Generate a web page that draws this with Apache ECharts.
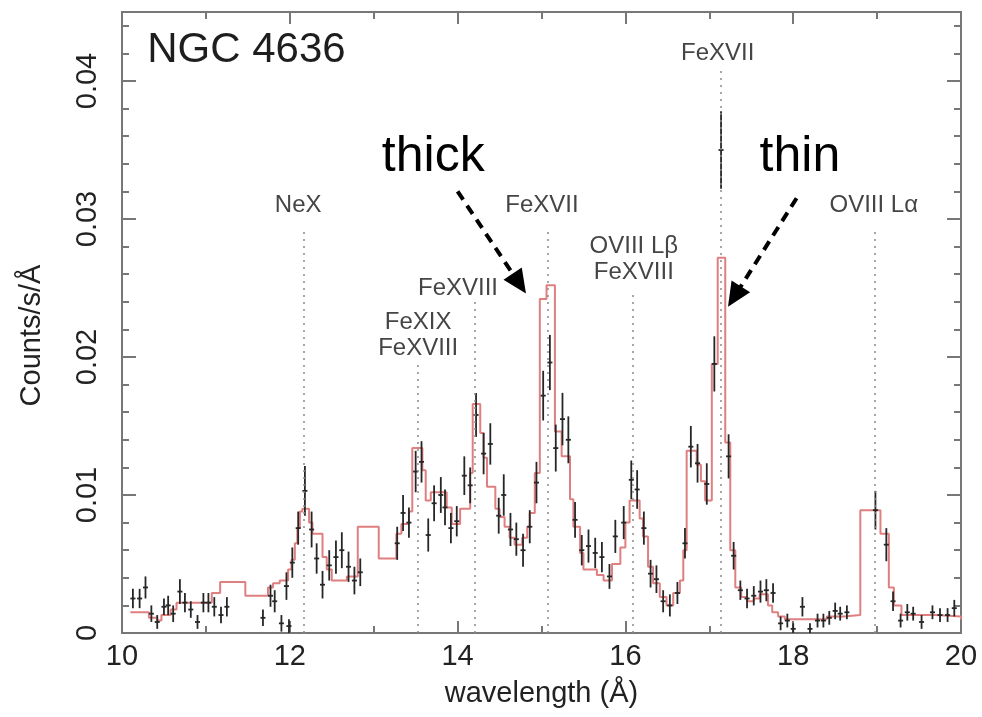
<!DOCTYPE html>
<html><head><meta charset="utf-8">
<script src="https://cdn.jsdelivr.net/npm/echarts@6/dist/echarts.min.js"></script>
<style>html,body{margin:0;padding:0;background:#fff}#c{width:982px;height:717px}</style>
</head><body><div id="c"></div>
<script>
// ---- data ----
const xTickLabels = [10, 12, 14, 16, 18, 20];
const yTickLabels = [0, 0.01, 0.02, 0.03, 0.04];

// model histogram: left bin edges (last entry is the final right edge) and values
const modelEdges = [10.10,10.32,10.42,10.47,10.58,10.65,11.07,11.17,11.47,11.74,11.80,11.88,11.98,12.02,12.06,12.09,12.12,12.15,12.23,12.27,12.39,12.44,12.50,12.68,12.81,13.06,13.27,13.33,13.42,13.46,13.58,13.62,13.68,13.87,13.93,14.03,14.15,14.18,14.27,14.31,14.35,14.45,14.50,14.56,14.62,14.68,14.77,14.83,14.86,14.92,14.98,15.06,15.16,15.24,15.34,15.38,15.46,15.50,15.66,15.74,15.84,15.94,16.00,16.05,16.17,16.21,16.27,16.33,16.41,16.49,16.57,16.65,16.69,16.73,16.85,16.90,16.95,17.03,17.10,17.19,17.25,17.31,17.38,17.45,17.53,17.60,17.70,17.75,17.82,17.90,18.40,18.60,18.80,19.04,19.14,19.20,19.29,19.70,20.00];
const modelValues = [0.0015,0.0011,0.0009,0.0013,0.0017,0.0022,0.0029,0.0037,0.0027,0.0033,0.0036,0.0038,0.0046,0.0053,0.0065,0.0076,0.0088,0.0090,0.0080,0.0072,0.0055,0.0046,0.0038,0.0041,0.0077,0.0054,0.0072,0.0079,0.0088,0.0134,0.0118,0.0096,0.0102,0.0091,0.0079,0.0090,0.0116,0.0166,0.0145,0.0127,0.0106,0.0090,0.0084,0.0077,0.0069,0.0064,0.0069,0.0077,0.0087,0.0116,0.0242,0.0252,0.0146,0.0128,0.0097,0.0077,0.0058,0.0046,0.0042,0.0038,0.0050,0.0062,0.0080,0.0096,0.0083,0.0070,0.0048,0.0036,0.0026,0.0020,0.0029,0.0038,0.0060,0.0132,0.0122,0.0110,0.0096,0.0195,0.0272,0.0138,0.0060,0.0033,0.0026,0.0023,0.0025,0.0028,0.0020,0.0015,0.0012,0.0010,0.0012,0.0013,0.0089,0.0072,0.0033,0.0020,0.0013,0.0012,0.0010];

// data points: wavelength, value, 1-sigma error
const pointX = [10.13,10.21,10.28,10.35,10.42,10.50,10.55,10.61,10.69,10.75,10.82,10.90,10.97,11.03,11.10,11.18,11.25,11.68,11.77,11.82,11.90,11.96,11.99,12.03,12.10,12.18,12.26,12.32,12.39,12.47,12.55,12.62,12.70,12.77,12.84,13.28,13.35,13.42,13.50,13.57,13.65,13.72,13.80,13.85,13.92,13.99,14.08,14.15,14.22,14.31,14.39,14.49,14.55,14.63,14.70,14.78,14.86,14.94,15.02,15.10,15.17,15.25,15.32,15.40,15.48,15.56,15.64,15.72,15.81,15.88,15.98,16.07,16.14,16.22,16.30,16.37,16.45,16.53,16.62,16.71,16.78,16.86,16.97,17.06,17.14,17.23,17.29,17.37,17.45,17.53,17.61,17.68,17.76,17.85,17.93,18.00,18.11,18.20,18.29,18.36,18.43,18.50,18.56,18.64,18.98,19.11,19.19,19.28,19.36,19.43,19.53,19.66,19.75,19.84,19.92];
const pointY = [0.0025,0.0025,0.0033,0.0014,0.0008,0.0019,0.0020,0.0014,0.0030,0.0022,0.0017,0.0008,0.0022,0.0022,0.0019,0.0013,0.0019,0.0011,0.0027,0.0023,0.0007,0.0034,0.0005,0.0051,0.0076,0.0103,0.0075,0.0054,0.0035,0.0049,0.0055,0.0060,0.0048,0.0038,0.0044,0.0065,0.0087,0.0080,0.0117,0.0124,0.0071,0.0094,0.0100,0.0091,0.0076,0.0081,0.0114,0.0107,0.0158,0.0130,0.0137,0.0085,0.0100,0.0075,0.0068,0.0060,0.0077,0.0109,0.0172,0.0196,0.0134,0.0155,0.0140,0.0082,0.0060,0.0063,0.0058,0.0055,0.0041,0.0070,0.0080,0.0111,0.0104,0.0076,0.0043,0.0039,0.0023,0.0020,0.0029,0.0065,0.0135,0.0123,0.0108,0.0195,0.0350,0.0128,0.0056,0.0031,0.0025,0.0027,0.0030,0.0031,0.0029,0.0007,0.0009,0.0003,0.0019,0.0003,0.0009,0.0009,0.0011,0.0016,0.0014,0.0015,0.0089,0.0064,0.0023,0.0009,0.0015,0.0014,0.0008,0.0015,0.0013,0.0013,0.0018];
const pointErr = [0.0007,0.0007,0.0008,0.0006,0.0005,0.0006,0.0007,0.0006,0.0009,0.0007,0.0006,0.0005,0.0007,0.0007,0.0007,0.0006,0.0007,0.0006,0.0008,0.0008,0.0006,0.0010,0.0005,0.0011,0.0012,0.0018,0.0013,0.0011,0.0010,0.0011,0.0012,0.0013,0.0011,0.0010,0.0010,0.0012,0.0013,0.0011,0.0015,0.0015,0.0012,0.0013,0.0013,0.0013,0.0011,0.0011,0.0014,0.0013,0.0016,0.0015,0.0015,0.0013,0.0015,0.0012,0.0012,0.0012,0.0012,0.0015,0.0018,0.0020,0.0017,0.0019,0.0017,0.0013,0.0011,0.0012,0.0011,0.0011,0.0009,0.0012,0.0012,0.0014,0.0014,0.0012,0.0010,0.0010,0.0008,0.0008,0.0008,0.0011,0.0015,0.0014,0.0015,0.0020,0.0028,0.0016,0.0010,0.0007,0.0007,0.0007,0.0008,0.0008,0.0007,0.0005,0.0005,0.0004,0.0007,0.0004,0.0005,0.0005,0.0005,0.0006,0.0005,0.0005,0.0014,0.0012,0.0007,0.0005,0.0006,0.0005,0.0005,0.0005,0.0005,0.0005,0.0006];
const binHalfWidth = 0.03;

// line identifications
const lineX = [12.17, 13.53, 14.21, 15.07, 16.09, 17.14, 18.97];
const lineTop = [0.0294, 0.0195, 0.0241, 0.0294, 0.0248, 0.0410, 0.0294];
const labelTexts = ['NeX', 'FeXIX\nFeXVIII', 'FeXVIII', 'FeXVII', 'OVIII Lβ\nFeXVIII', 'FeXVII', 'OVIII Lα'];
const labelX = [12.10, 13.53, 14.005, 15.006, 16.10, 17.10, 18.96];
const labelY = [0.0310, 0.02155, 0.0250, 0.0310, 0.0271, 0.0420, 0.0310];

// annotations
const titleText = 'NGC 4636';
const titlePos = [10.30, 0.0422];
const noteTexts = ['thick', 'thin'];
const noteX = [13.71, 18.08];
const noteY = [0.0345, 0.0345];
const arrowFrom = [[14.00, 0.0320], [18.04, 0.0315]];
const arrowTo = [[14.815, 0.0246], [17.223, 0.02365]];

// ---- chart ----
const FONT = '"Liberation Sans", Arial, Helvetica, sans-serif';
const frame = {color: '#777', width: 2};
const chart = echarts.init(document.getElementById('c'));

function xAx(pos, labels) {
  return {
    type: 'value', min: 10, max: 20, interval: 2, position: pos,
    axisLine: {show: true, onZero: false, lineStyle: frame},
    axisTick: {show: true, inside: true, length: 12, lineStyle: frame},
    minorTick: {show: true, splitNumber: 2, length: 7, lineStyle: frame},
    splitLine: {show: false}, minorSplitLine: {show: false},
    axisLabel: {show: labels, fontSize: 29, fontFamily: FONT, color: '#222', margin: 9,
      formatter: v => xTickLabels.indexOf(v) >= 0 ? String(v) : ''},
    name: labels ? 'wavelength (Å)' : '', nameLocation: 'middle', nameGap: 46,
    nameTextStyle: {fontSize: 29, fontFamily: FONT, color: '#222'}
  };
}
function yAx(pos, major, labels) {
  return {
    type: 'value', min: 0, max: 0.045, interval: major ? 0.01 : 0.002, position: pos,
    axisLine: {show: true, onZero: false, lineStyle: frame},
    axisTick: {show: true, inside: true, length: major ? 14 : 7, lineStyle: frame},
    splitLine: {show: false},
    axisLabel: {show: labels, rotate: 90, fontSize: 29, fontFamily: FONT, color: '#222', margin: 20,
      formatter: v => {
        for (const t of yTickLabels) if (Math.abs(v - t) < 1e-9) return t === 0 ? '0' : t.toFixed(2);
        return '';
      }},
    name: labels ? 'Counts/s/Å' : '', nameLocation: 'middle', nameGap: 76, nameRotate: 90,
    nameTextStyle: {fontSize: 29, fontFamily: FONT, color: '#222', padding: [0, 26, 0, 0]}
  };
}

const modelData = modelValues.map((v, i) => [modelEdges[i], v]);
modelData.push([modelEdges[modelEdges.length - 1], modelValues[modelValues.length - 1]]);
const pts = pointX.map((x, i) => [x, pointY[i], pointErr[i]]);

chart.setOption({
  animation: false,
  backgroundColor: '#fff',
  grid: {left: 122, right: 21, top: 12, bottom: 84, containLabel: false, outerBoundsMode: 'none'},
  xAxis: [xAx('bottom', true), xAx('top', false)],
  yAxis: [yAx('left', true, true), yAx('left', false, false), yAx('right', true, false), yAx('right', false, false)],
  series: [
    {
      type: 'line', xAxisIndex: 0, yAxisIndex: 0, data: [], silent: true,
      markLine: {
        silent: true, symbol: ['none', 'none'], label: {show: false}, animation: false,
        lineStyle: {type: [2, 5], color: '#8a8a8a', width: 1.5},
        data: lineX.map((x, i) => [{coord: [x, 0]}, {coord: [x, lineTop[i]]}])
      }
    },
    {
      type: 'line', xAxisIndex: 0, yAxisIndex: 0, step: 'end', symbol: 'none', z: 3,
      lineStyle: {color: '#df7f80', width: 2}, data: modelData
    },
    {
      type: 'custom', xAxisIndex: 0, yAxisIndex: 0, z: 4, clip: true,
      encode: {x: 0, y: 1}, data: pts,
      renderItem: (params, api) => {
        const x = api.value(0), y = api.value(1), e = api.value(2);
        const c = api.coord([x, y]);
        const lo = api.coord([x, Math.max(0, y - e)]);
        const hi = api.coord([x, y + e]);
        const l = api.coord([x - binHalfWidth, y]);
        const r = api.coord([x + binHalfWidth, y]);
        const st = {stroke: '#262626', lineWidth: 1.8};
        return {type: 'group', children: [
          {type: 'line', shape: {x1: c[0], y1: lo[1], x2: c[0], y2: hi[1]}, style: st},
          {type: 'line', shape: {x1: l[0], y1: c[1], x2: r[0], y2: c[1]}, style: st}
        ]};
      }
    }
  ]
});

const px = p => chart.convertToPixel({xAxisIndex: 0, yAxisIndex: 0}, p);
const g = [];
labelTexts.forEach((t, i) => {
  const p = px([labelX[i], labelY[i]]);
  g.push({type: 'text', x: p[0], y: p[1], z: 10, style: {text: t, fill: '#454545', font: '24px ' + FONT, align: 'center', verticalAlign: 'middle', lineHeight: 26}});
});
{
  const p = px(titlePos);
  g.push({type: 'text', x: p[0], y: p[1], z: 10, style: {text: titleText, fill: '#1e1e1e', font: '42px ' + FONT, align: 'left', verticalAlign: 'middle'}});
}
noteTexts.forEach((t, i) => {
  const p = px([noteX[i], noteY[i]]);
  g.push({type: 'text', x: p[0], y: p[1], z: 10, style: {text: t, fill: '#000', font: '50px ' + FONT, align: 'center', verticalAlign: 'middle'}});
});
arrowFrom.forEach((f, i) => {
  const a = px(f), b = px(arrowTo[i]);
  const dx = b[0] - a[0], dy = b[1] - a[1], L = Math.hypot(dx, dy);
  const ux = dx / L, uy = dy / L, head = 24, hw = 11;
  const base = [b[0] - ux * head, b[1] - uy * head];
  g.push({type: 'line', z: 11, shape: {x1: a[0], y1: a[1], x2: base[0] + ux * 2, y2: base[1] + uy * 2},
    style: {stroke: '#000', lineWidth: 4, lineDash: [10, 7]}});
  g.push({type: 'polygon', z: 11, shape: {points: [b, [base[0] - uy * hw, base[1] + ux * hw], [base[0] + uy * hw, base[1] - ux * hw]]},
    style: {fill: '#000'}});
});
chart.setOption({graphic: g});
</script>
</body></html>
